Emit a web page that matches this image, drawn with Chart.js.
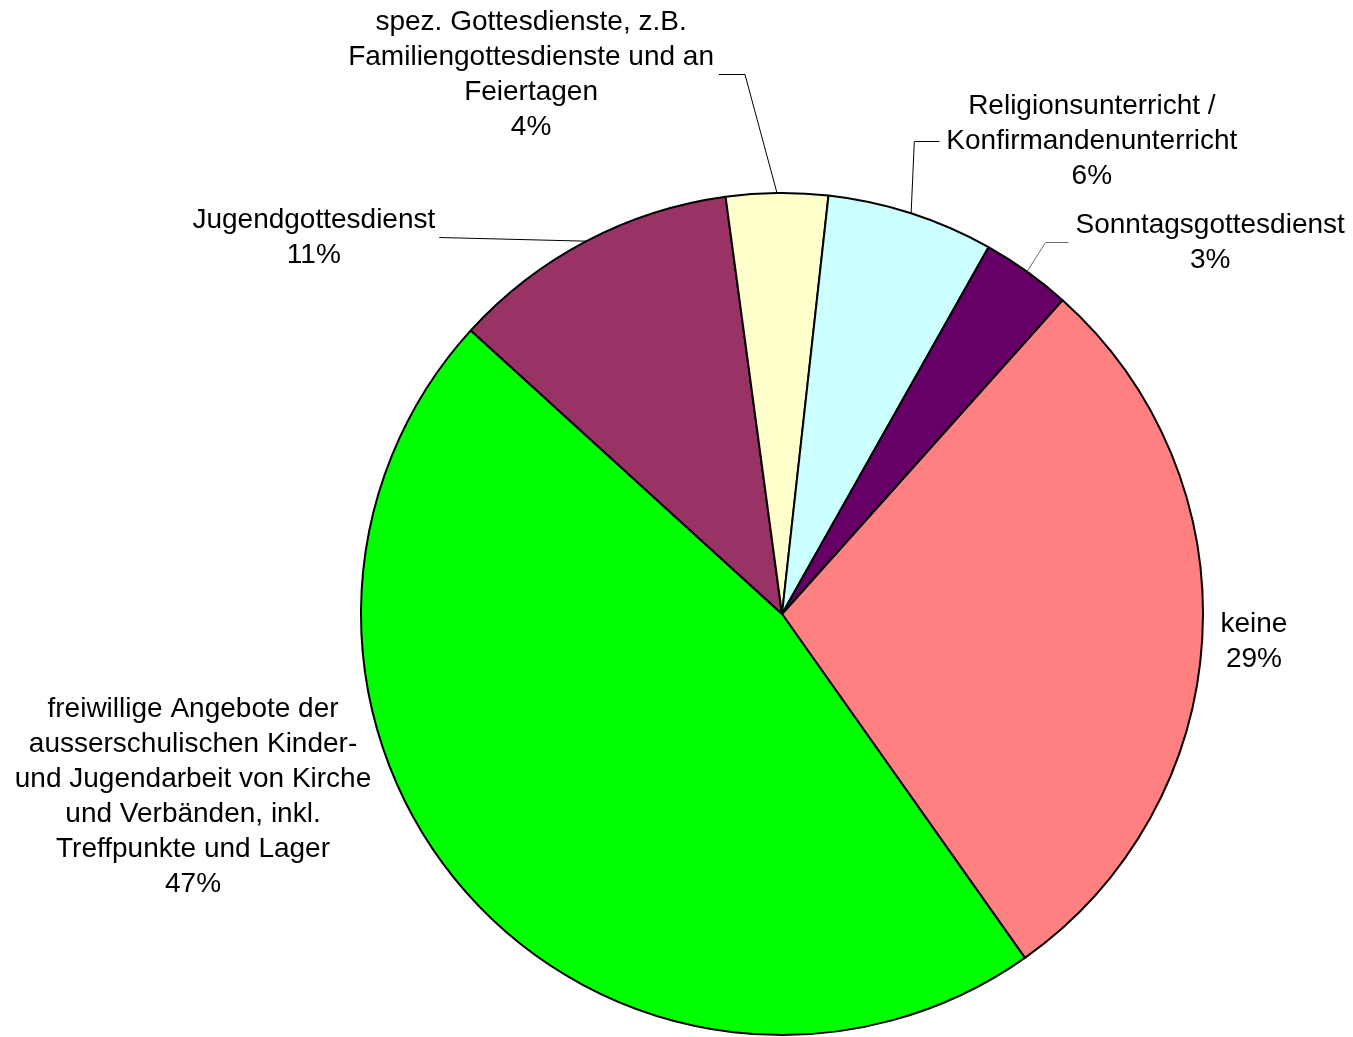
<!DOCTYPE html>
<html>
<head>
<meta charset="utf-8">
<script src="https://cdn.jsdelivr.net/npm/chart.js@4"></script>
<style>
  html, body { margin: 0; padding: 0; background: #fff; }
</style>
</head>
<body>
<canvas id="chart" width="1353" height="1037"></canvas>
<script>
const categories = [
  ["keine"],
  ["freiwillige Angebote der", "ausserschulischen Kinder-", "und Jugendarbeit von Kirche", "und Verbänden, inkl.", "Treffpunkte und Lager"],
  ["Jugendgottesdienst"],
  ["spez. Gottesdienste, z.B.", "Familiengottesdienste und an", "Feiertagen"],
  ["Religionsunterricht /", "Konfirmandenunterricht"],
  ["Sonntagsgottesdienst"]
];
const shares = [28.6, 46.55, 11.1, 3.9, 6.4, 3.45];
const sliceColors = ["#FF8080", "#00FF00", "#993366", "#FFFFCC", "#CCFFFF", "#660066"];

// where each label block sits, relative to the pie centre (in radii),
// and how its leader line runs (null = no leader)
const labelPlace = [
  { x: 1.121, y: 0.066, leader: null },
  { x: -1.399, y: 0.435, leader: null },
  { x: -1.112, y: -0.894, leader: { side: "right", gap: 4, elbow: 0, color: "#000" } },
  { x: -0.596, y: -1.281, leader: { side: "right", gap: 5, elbow: 26, color: "#000" } },
  { x: 0.736, y: -1.122, leader: { side: "left", gap: 7, elbow: 25, color: "#000" } },
  { x: 1.017, y: -0.881, leader: { side: "left", gap: 7, elbow: 23, color: "#6e6e6e" } }
];

const FONT = '28px "Liberation Sans", Arial, sans-serif';
const LINE_H = 35;

const pieLabels = {
  id: "pieLabels",
  afterDatasetsDraw(chart) {
    const ctx = chart.ctx;
    const arcs = chart.getDatasetMeta(0).data;
    const total = shares.reduce((a, b) => a + b, 0);
    ctx.save();
    ctx.font = FONT;
    ctx.fillStyle = "#000";
    ctx.textAlign = "center";
    ctx.textBaseline = "middle";
    arcs.forEach((arc, i) => {
      const p = labelPlace[i];
      const R = arc.outerRadius;
      const cx = arc.x + p.x * R;
      const cy = arc.y + p.y * R;
      const lines = categories[i].concat([Math.round(shares[i] / total * 100) + "%"]);
      const n = lines.length;
      lines.forEach((t, k) => {
        ctx.fillText(t, cx, cy + (k - (n - 1) / 2) * LINE_H);
      });
      if (p.leader) {
        const w = Math.max(...lines.map(t => ctx.measureText(t).width));
        const dir = p.leader.side === "right" ? 1 : -1;
        const endX = cx + dir * (w / 2 + p.leader.gap);
        const elbowX = endX + dir * p.leader.elbow;
        const ly = Math.round(cy) - 0.5;
        const mid = (arc.startAngle + arc.endAngle) / 2;
        const ex = arc.x + Math.cos(mid) * R;
        const ey = arc.y + Math.sin(mid) * R;
        ctx.beginPath();
        ctx.strokeStyle = p.leader.color;
        ctx.lineWidth = 1;
        ctx.moveTo(ex, ey);
        ctx.lineTo(elbowX, ly);
        ctx.lineTo(endX, ly);
        ctx.stroke();
      }
    });
    ctx.restore();
  }
};

new Chart(document.getElementById("chart"), {
  type: "pie",
  data: {
    labels: categories,
    datasets: [{
      data: shares,
      backgroundColor: sliceColors,
      borderColor: "#000",
      borderWidth: 2
    }]
  },
  options: {
    responsive: false,
    animation: false,
    rotation: 41.8,
    radius: 421,
    layout: { padding: { left: 211, top: 191, right: 0, bottom: 0 } },
    plugins: {
      legend: { display: false },
      tooltip: { enabled: false }
    }
  },
  plugins: [pieLabels]
});
</script>
</body>
</html>
